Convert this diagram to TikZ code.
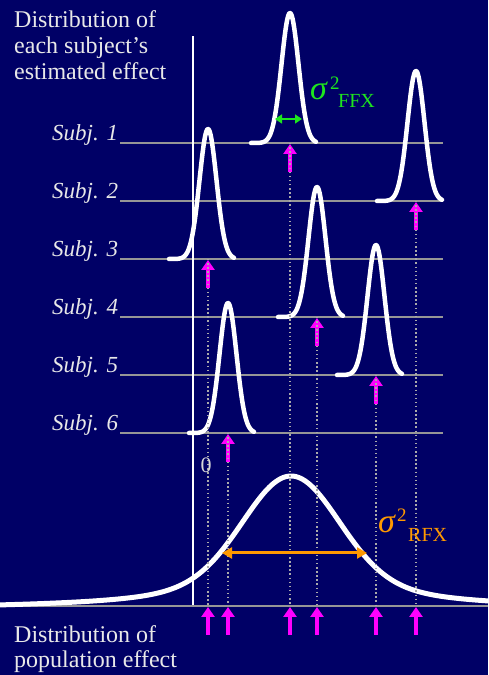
\documentclass[tikz,border=0pt]{standalone}
\usepackage{fontspec}
\setmainfont{Liberation Serif}
\usetikzlibrary{arrows.meta}
\definecolor{bgnavy}{RGB}{0,0,102}
\definecolor{txtwhite}{RGB}{232,232,232}
\definecolor{linegray}{RGB}{150,150,150}
\definecolor{dotgray}{RGB}{170,170,170}
\definecolor{magarr}{RGB}{255,0,255}
\definecolor{ffxgreen}{RGB}{30,230,30}
\definecolor{rfxorange}{RGB}{255,153,0}
\tikzset{
  subjline/.style={draw=linegray, line width=1.5pt},
  curve/.style={draw=white, line width=4.5pt, line cap=round, line join=round},
  magarrow/.style={draw=magarr, line width=4pt, -{Triangle[width=13pt,length=10pt]}},
  dotline/.style={draw=dotgray, line width=1.3pt, dash pattern=on 1.5pt off 2.6pt},
  bigtxt/.style={text=txtwhite, font=\fontsize{24}{26}\selectfont, inner sep=0pt},
  subjtxt/.style={text=txtwhite, font=\fontsize{23}{26}\selectfont\itshape, inner sep=0pt, anchor=base west},
}
\begin{document}
\begin{tikzpicture}[x=1pt,y=1pt]
\fill[bgnavy] (0,0) rectangle (488,675);
\useasboundingbox (0,0) rectangle (488,675);

% subject lines
\foreach \n/\y in {1/532,2/474,3/416,4/358,5/300,6/242}{
  \coordinate (L\n) at (120,\y);
  \coordinate (R\n) at (443,\y);
  \draw[subjline] (L\n) -- (R\n);
  \node[subjtxt] (subj\n) at (52,\y+2) {Subj. \n};
}
% baseline and axis
\coordinate (base0) at (0,69);
\coordinate (base1) at (488,69);
\draw[draw=linegray, line width=2pt] (base0) -- (base1);
\coordinate (axb) at (193,70);
\coordinate (axt) at (193,639);
\draw[draw=white, line width=2pt] (axb) -- (axt);

% subject curves
\foreach \m/\y in {290/532,416/474,208/416,317/358,376/300,228/242}{
  \draw[curve] plot[domain=-39:26, samples=90] ({\m+\x}, {\y+130*exp(-(\x*\x)/144.5)});
}
% population curve
\draw[curve, line width=5pt] plot[domain=0:4.88, samples=220]
  ({100*\x}, {70+129*max(0,(0.7*exp(-((\x-2.91)^2)/0.4418)+0.3/(1+((\x-2.91)/1.0)^2)-0.031)/0.969)});

% subject arrows
\foreach \n/\m/\y in {1/290/532,2/416/474,3/208/416,4/317/358,5/376/300,6/228/242}{
  \coordinate (sa\n) at (\m,\y-29);
  \coordinate (sb\n) at (\m,\y-1);
  \draw[magarrow] (sa\n) -- (sb\n);
}
% bottom arrows
\foreach \n/\m in {1/290,2/416,3/208,4/317,5/376,6/228}{
  \coordinate (ba\n) at (\m,40);
  \coordinate (bb\n) at (\m,68);
  \draw[magarrow] (ba\n) -- (bb\n);
}
% dotted lines
\foreach \n/\m/\y in {1/290/532,2/416/474,3/208/416,4/317/358,5/376/300,6/228/242}{
  \coordinate (da\n) at (\m,\y);
  \coordinate (db\n) at (\m,70);
  \draw[dotline] (da\n) -- (db\n);
}

% sigma FFX
\coordinate (fa) at (275,556);
\coordinate (fb) at (302,556);
\draw[draw=ffxgreen, line width=2.5pt, {Triangle[width=9pt,length=7pt]}-{Triangle[width=9pt,length=7pt]}] (fa) -- (fb);
\node[anchor=base west, inner sep=0pt, text=ffxgreen, font=\fontsize{34}{34}\selectfont\itshape] (sigf) at (310,575) {σ};
\node[anchor=base west, inner sep=0pt, text=ffxgreen, font=\fontsize{19}{19}\selectfont] (twof) at (330,585) {2};
\node[anchor=base west, inner sep=0pt, text=ffxgreen, font=\fontsize{20}{20}\selectfont] (ffx) at (338,567) {FFX};

% sigma RFX
\coordinate (ra) at (222,122);
\coordinate (rb) at (367,122);
\draw[draw=rfxorange, line width=3pt, {Triangle[width=11pt,length=10pt]}-{Triangle[width=11pt,length=10pt]}] (ra) -- (rb);
\node[anchor=base west, inner sep=0pt, text=rfxorange, font=\fontsize{34}{34}\selectfont\itshape] (sigr) at (378,142) {σ};
\node[anchor=base west, inner sep=0pt, text=rfxorange, font=\fontsize{19}{19}\selectfont] (twor) at (397,153) {2};
\node[anchor=base west, inner sep=0pt, text=rfxorange, font=\fontsize{20}{20}\selectfont] (rfx) at (408,133) {RFX};

% zero
\node[inner sep=0pt, text=txtwhite!85!gray, font=\fontsize{22}{22}\selectfont] (zero) at (206,210) {0};

% texts
\node[bigtxt, anchor=base west] (t1) at (14,647) {Distribution of};
\node[bigtxt, anchor=base west] (t2) at (14,621) {each subject’s};
\node[bigtxt, anchor=base west] (t3) at (14,595) {estimated effect};
\node[bigtxt, anchor=base west] (b1) at (14,32) {Distribution of};
\node[bigtxt, anchor=base west] (b2) at (14,7) {population effect};
\end{tikzpicture}
\end{document}
